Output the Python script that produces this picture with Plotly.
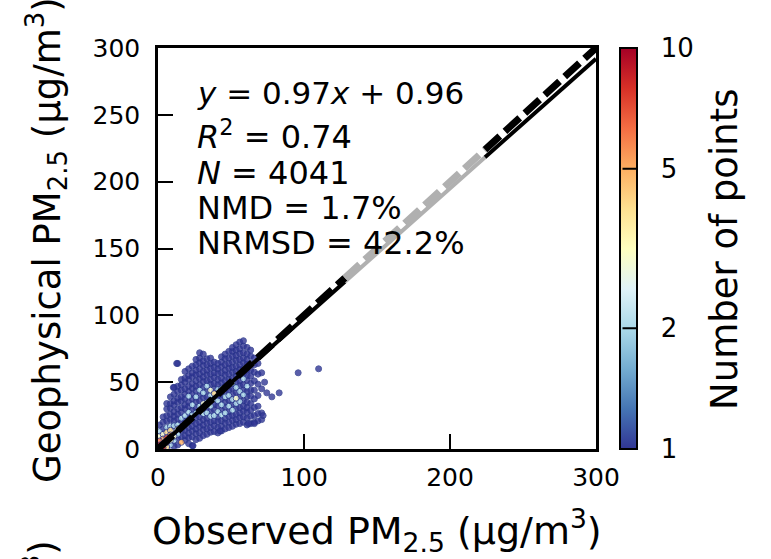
import numpy as np
import plotly.graph_objects as go

# ---------------- data ----------------
# observed PM2.5 column positions (ug/m3) and the geophysical PM2.5 values seen in each column
col_obs = [1, 3.5, 6, 8.5, 11, 13.5, 16, 18.5, 21, 23.5, 26, 28.5, 31, 33.5, 36, 38.5,
           41, 43.5, 46, 48.5, 51, 53.5, 56, 58.5, 61, 63.5, 66, 68.5, 71]
col_geo = [
    [0.5, 3, 6, 9.5, 13, 18],
    [1, 4, 7.5, 11, 15, 20, 24],
    [1.5, 5, 8.5, 12.5, 16, 21, 25, 30, 34],
    [3, 6.5, 10.5, 14, 17, 22, 26, 30.5, 34, 39],
    [2, 6.5, 9.5, 13, 17.5, 21, 24.5, 28, 33, 36, 41, 46],
    [3, 8, 11, 15, 18, 22.5, 26, 30, 35, 38, 43, 47, 64],
    [5, 9, 13.5, 16, 20, 23, 27.5, 31, 36, 39, 44, 48, 52],
    [6.5, 10, 14, 18.5, 21.5, 25, 30, 33, 37.5, 41, 45, 50, 53, 58],
    [4, 8.5, 12, 16, 20.5, 24, 27.5, 32, 35, 39.5, 43, 47, 52, 55, 60],
    [2.5, 9, 13.5, 17, 21, 25.5, 29, 33, 37.5, 41, 45.5, 49, 54, 57, 62],
    [7, 11.5, 15, 19, 23.5, 27, 31, 35.5, 39, 43.5, 47, 51, 55.5, 59, 63, 67],
    [8, 12, 16.5, 20, 24, 28.5, 32, 36, 40.5, 44, 48, 52.5, 56, 60, 64.5, 68, 72],
    [10, 14.5, 18, 22, 26.5, 30, 34, 38.5, 42, 46, 50.5, 54, 58, 62.5, 66, 71],
    [11, 15, 19.5, 23, 27, 31.5, 35, 39, 43.5, 47, 51, 55.5, 59, 63, 67.5],
    [12.5, 16, 20, 24.5, 28, 32, 36.5, 40, 44, 48.5, 52, 56, 60.5, 64, 68],
    [13, 17.5, 21, 25, 29.5, 33, 37, 41.5, 45, 49, 53.5, 57, 61, 65],
    [12, 16, 20.5, 24, 28, 32.5, 36, 40, 44.5, 48, 52, 56.5, 60, 64],
    [13.5, 17, 21, 25.5, 29, 33, 37.5, 41, 45, 49.5, 53, 57, 61.5, 65, 69],
    [15, 19.5, 23, 27, 31.5, 35, 39, 43.5, 47, 51, 55.5, 59, 63, 67.5, 71],
    [16, 20, 24.5, 28, 32, 36.5, 40, 44, 48.5, 52, 56, 60.5, 64, 68, 73],
    [17, 21.5, 25, 29, 33.5, 37, 41, 45.5, 49, 53, 57.5, 61, 65, 69.5, 73, 76],
    [18.5, 22, 26, 30.5, 34, 38, 42.5, 46, 50, 54.5, 58, 62, 66.5, 70, 74, 78],
    [19, 23.5, 27, 31, 35.5, 39, 43, 47.5, 51, 55, 59.5, 63, 67, 71.5, 75, 80],
    [20, 24, 28.5, 32, 36, 40.5, 44, 48, 52.5, 56, 60, 64.5, 68, 72, 77, 81],
    [18, 23, 27.5, 31, 35, 39.5, 43, 47, 51.5, 55, 59, 63.5, 67, 71, 76],
    [19, 24.5, 29, 34, 39.5, 44, 49, 54.5, 59, 64, 69.5, 74],
    [20, 25, 31, 37.5, 44, 51, 57.5, 63, 68],
    [21, 26.5, 32, 40, 48.5, 56, 64],
    [22, 27, 45, 57],
]
# number of points in the density bin of each plotted point
col_n = [
    [10, 9, 6, 3, 2, 1],
    [8, 9, 5, 3, 1, 1, 1],
    [4, 6, 7, 4, 2, 1, 1, 1, 1],
    [2, 3, 5, 4, 2, 1, 1, 1, 1, 1],
    [1, 2, 3, 3, 2, 1, 1, 1, 1, 1, 1, 1],
    [1, 1, 2, 3, 2, 1, 1, 1, 1, 1, 1, 1, 1],
    [5, 1, 1, 2, 1, 2, 1, 1, 1, 1, 1, 1, 1],
    [1, 1, 1, 2, 1, 2, 1, 1, 1, 1, 1, 1, 1, 1],
    [1, 1, 1, 1, 2, 1, 2, 1, 1, 2, 1, 1, 1, 1, 1],
    [1, 1, 1, 1, 1, 2, 1, 2, 1, 1, 1, 1, 1, 1, 1],
    [1, 1, 1, 1, 1, 2, 1, 1, 2, 1, 1, 1, 1, 1, 1, 1],
    [1, 1, 1, 1, 1, 1, 2, 1, 1, 2, 1, 1, 1, 1, 1, 1, 1],
    [1, 1, 1, 1, 2, 1, 3, 1, 2, 1, 1, 1, 1, 1, 1, 1],
    [1, 1, 1, 1, 2, 1, 2, 1, 1, 2, 1, 1, 1, 1, 1],
    [1, 1, 1, 2, 1, 2, 1, 2, 3, 1, 1, 1, 1, 1, 1],
    [1, 1, 1, 2, 1, 1, 2, 4, 1, 1, 1, 1, 1, 1],
    [1, 1, 1, 1, 2, 1, 2, 1, 2, 1, 1, 1, 1, 1],
    [1, 1, 1, 2, 1, 2, 1, 1, 2, 1, 1, 1, 1, 1, 1],
    [1, 1, 1, 2, 1, 1, 2, 1, 1, 1, 1, 1, 1, 1, 1],
    [1, 1, 1, 1, 2, 1, 2, 1, 2, 1, 1, 1, 1, 1, 1],
    [1, 1, 1, 2, 1, 2, 1, 1, 2, 1, 1, 1, 1, 1, 1, 1],
    [1, 1, 1, 1, 2, 3, 1, 2, 1, 1, 1, 1, 1, 1, 1, 1],
    [1, 1, 1, 1, 2, 1, 2, 1, 1, 1, 1, 1, 1, 1, 1, 1],
    [1, 1, 1, 1, 1, 2, 1, 1, 2, 1, 1, 1, 1, 1, 1, 1],
    [1, 1, 1, 1, 1, 1, 1, 2, 1, 1, 1, 1, 1, 1, 1],
    [1, 1, 1, 1, 1, 1, 1, 1, 1, 1, 1, 1],
    [1, 1, 1, 1, 1, 1, 1, 1, 1],
    [1, 1, 1, 1, 1, 1, 1],
    [1, 1, 1, 1],
]
# isolated points
out_obs = [72, 74.5, 78, 83, 73, 96, 110, 42.5, 24, 10.5, 12.8, 66, 62]
out_geo = [25, 42, 39, 42, 50, 57, 60, 13.5, 2.5, 46, 64, 19, 19]
out_n = [1, 1, 1, 1, 1, 1, 1, 1, 1, 1, 1, 1, 1]

# regression statistics
fit_slope = 0.97
fit_intercept = 0.96
stats_lines = ["<i>y</i> = 0.97<i>x</i> + 0.96",
               "<i>R</i><sup>2</sup> = 0.74",
               "<i>N</i> = 4041",
               "NMD = 1.7%",
               "NRMSD = 42.2%"]
# line segments: breakpoints along observed axis and their colours
seg_breaks = [0, 128, 224, 300]
seg_colors = ["black", "#b0b0b0", "black"]

cbar_vals = [1, 2, 5, 10]
cbar_marks = [2, 5]
x_ticks = [0, 100, 200, 300]
y_ticks = [0, 50, 100, 150, 200, 250, 300]

# ---------------- build ----------------
obs, geo, npts = [], [], []
for x, ys, ns in zip(col_obs, col_geo, col_n):
    for y, n in zip(ys, ns):
        obs.append(x); geo.append(y); npts.append(n)
obs += out_obs; geo += out_geo; npts += out_n
obs = np.array(obs, float); geo = np.array(geo, float); npts = np.array(npts, float)
order = np.argsort(npts, kind="stable")
obs, geo, npts = obs[order], geo[order], npts[order]

FONT = "DejaVu Sans"
# plot area in pixels
L, R, T, B = 158, 596, 48, 449
W, H = R - L, B - T
def px(xp):
    return (xp - L) / W
def py(yp):
    return (B - yp) / H

CB_L, CB_R = 620, 637

fig = go.Figure()
fig.add_trace(go.Scatter(
    x=obs, y=geo, mode="markers",
    marker=dict(size=6, color=np.log10(npts), colorscale="RdYlBu_r", cmin=0, cmax=1,
                opacity=0.8,
                line=dict(color="#27338a", width=1),
                colorbar=dict(
                    tickvals=list(np.log10(cbar_vals)), ticktext=[str(v) for v in cbar_vals],
                    ticks="outside", ticklen=18, tickwidth=1, tickcolor="rgba(0,0,0,0)",
                    thickness=CB_R - CB_L, len=1, lenmode="fraction", y=0.5, yanchor="middle",
                    x=px(CB_L), xanchor="left", xpad=0, ypad=0,
                    outlinewidth=2, outlinecolor="black",
                    tickfont=dict(size=26, family=FONT, color="black"))),
    showlegend=False, hoverinfo="skip"))

for i in range(len(seg_colors)):
    xs = np.array([seg_breaks[i], seg_breaks[i + 1]], float)
    fig.add_trace(go.Scatter(x=xs, y=fit_slope * xs + fit_intercept, mode="lines",
                             line=dict(color=seg_colors[i], width=4), showlegend=False,
                             hoverinfo="skip"))
for i in range(len(seg_colors)):
    xs = np.array([seg_breaks[i], seg_breaks[i + 1]], float)
    fig.add_trace(go.Scatter(x=xs, y=xs, mode="lines",
                             line=dict(color=seg_colors[i], width=7, dash="20px,7px"),
                             showlegend=False, hoverinfo="skip"))

# inside tick marks on colorbar (drawn as arrow-less annotation lines)
for v in cbar_marks:
    fig.add_annotation(x=px(CB_R - 1), y=np.log10(v), xref="paper", yref="paper",
                       ax=-(CB_R - CB_L - 2), ay=0, axref="pixel", ayref="pixel",
                       text="", showarrow=True, arrowhead=0, arrowwidth=2,
                       arrowcolor="black", standoff=0, startstandoff=0)

axis_common = dict(range=[0, 300], ticks="inside", ticklen=15, tickwidth=2, tickcolor="black",
                   showline=True, linewidth=2.5, linecolor="black", mirror=True,
                   showgrid=False, zeroline=False,
                   tickfont=dict(size=25, family=FONT, color="black"))
fig.update_xaxes(tickvals=x_ticks, ticklabelstandoff=4, **axis_common)
fig.update_yaxes(tickvals=y_ticks, ticklabelstandoff=10, **axis_common)

# stats text
stat_px = [93, 135, 173, 208, 243]
stat_size = [31, 32, 32, 32, 32]
for txt, yp, fs in zip(stats_lines, stat_px, stat_size):
    fig.add_annotation(x=px(195), y=py(yp), xref="paper", yref="paper",
                       text=txt, showarrow=False, xanchor="left", yanchor="middle",
                       font=dict(size=fs, family=FONT, color="black"))

# axis titles
fig.add_annotation(x=px(377), y=py(530), xref="paper", yref="paper",
                   text="Observed PM<sub>2.5</sub> (µg/m<sup>3</sup>)", showarrow=False,
                   xanchor="center", yanchor="middle",
                   font=dict(size=38, family=FONT, color="black"))
fig.add_annotation(x=px(46), y=py(240), xref="paper", yref="paper",
                   text="Geophysical PM<sub>2.5</sub> (µg/m<sup>3</sup>)", showarrow=False,
                   textangle=-90, xanchor="center", yanchor="middle",
                   font=dict(size=37, family=FONT, color="black"))
fig.add_annotation(x=px(725), y=py(250), xref="paper", yref="paper",
                   text="Number of points", showarrow=False,
                   textangle=-90, xanchor="center", yanchor="middle",
                   font=dict(size=37, family=FONT, color="black"))
# cut-off title of the panel below
fig.add_annotation(x=px(42), y=py(538), xref="paper", yref="paper",
                   text="Geophysical PM<sub>2.5</sub> (µg/m<sup>3</sup>)", showarrow=False,
                   textangle=-90, xanchor="center", yanchor="top",
                   font=dict(size=37, family=FONT, color="black"))

fig.update_layout(width=771, height=559,
                  margin=dict(l=L, r=771 - R, t=T, b=559 - B, autoexpand=False),
                  plot_bgcolor="white", paper_bgcolor="white",
                  font=dict(family=FONT, color="black"))
fig.write_html("out.html", config={"displayModeBar": False},
               post_script="document.body.style.margin='0';")
